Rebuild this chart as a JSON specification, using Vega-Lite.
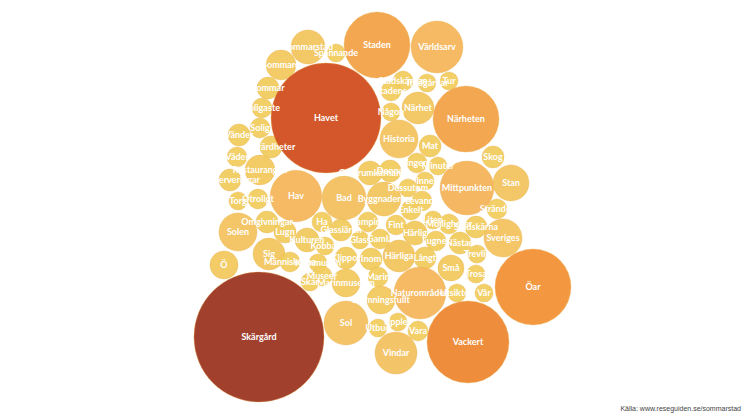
{
  "$schema": "https://vega.github.io/schema/vega-lite/v6.json",
  "width": 746,
  "height": 420,
  "padding": 0,
  "autosize": {"type": "none"},
  "background": "white",
  "title": {"text": "Källa: www.reseguiden.se/sommarstad", "orient": "bottom", "anchor": "end", "offset": -15, "dx": -5, "fontSize": 7, "fontWeight": "normal", "color": "#444", "font": "Liberation Sans"},
  "config": {"view": {"stroke": null}},
  "data": {"values": [
    {"ord": "Sommarstad", "x": 308, "y": 47, "antal": 9.6},
    {"ord": "Spännande", "x": 336, "y": 53, "antal": 2.7},
    {"ord": "Staden", "x": 377, "y": 45, "antal": 36},
    {"ord": "Världsarv", "x": 437, "y": 47, "antal": 22.3},
    {"ord": "Sommare", "x": 281, "y": 65, "antal": 7.4},
    {"ord": "Sommar", "x": 268, "y": 88, "antal": 4},
    {"ord": "Soligaste", "x": 262, "y": 108, "antal": 3.3},
    {"ord": "Solig", "x": 260, "y": 128, "antal": 3.3},
    {"ord": "Vänder", "x": 239, "y": 135, "antal": 4},
    {"ord": "Väder", "x": 237, "y": 157, "antal": 3.3},
    {"ord": "Sevärdheter", "x": 271, "y": 147, "antal": 4},
    {"ord": "Restaurangen", "x": 260, "y": 170, "antal": 7.4},
    {"ord": "Uteserveringar", "x": 230, "y": 180, "antal": 4},
    {"ord": "Torg", "x": 238, "y": 201, "antal": 2.7},
    {"ord": "Otroligt", "x": 258, "y": 199, "antal": 3.3},
    {"ord": "Omgivningar", "x": 267, "y": 222, "antal": 4},
    {"ord": "Solen", "x": 238, "y": 232, "antal": 12},
    {"ord": "Ö", "x": 224, "y": 265, "antal": 6.5},
    {"ord": "Sig", "x": 269, "y": 254, "antal": 8.5},
    {"ord": "Lugn", "x": 285, "y": 232, "antal": 4},
    {"ord": "Havet", "x": 326, "y": 118, "antal": 100},
    {"ord": "Hav", "x": 296, "y": 196, "antal": 22},
    {"ord": "Bad", "x": 344, "y": 198, "antal": 16},
    {"ord": "Stadskärnan", "x": 403, "y": 81, "antal": 3.3},
    {"ord": "Trädgårdar", "x": 427, "y": 83, "antal": 2.7},
    {"ord": "Tur", "x": 449, "y": 81, "antal": 2.7},
    {"ord": "Stadens", "x": 391, "y": 91, "antal": 3.3},
    {"ord": "Någon", "x": 391, "y": 112, "antal": 2.7},
    {"ord": "Närhet", "x": 418, "y": 108, "antal": 8.5},
    {"ord": "Närheten", "x": 466, "y": 119, "antal": 36},
    {"ord": "Historia", "x": 399, "y": 139, "antal": 12},
    {"ord": "Mat", "x": 430, "y": 146, "antal": 4},
    {"ord": "Skog", "x": 493, "y": 157, "antal": 4},
    {"ord": "Ingen", "x": 417, "y": 163, "antal": 3.3},
    {"ord": "Minuter", "x": 438, "y": 166, "antal": 2.7},
    {"ord": "Centrumkärnan", "x": 370, "y": 173, "antal": 4.8},
    {"ord": "Donna", "x": 390, "y": 171, "antal": 4},
    {"ord": "Inne", "x": 425, "y": 181, "antal": 2.7},
    {"ord": "Dessutom", "x": 408, "y": 188, "antal": 2.7},
    {"ord": "Mittpunkten", "x": 467, "y": 188, "antal": 24},
    {"ord": "Stan", "x": 511, "y": 183, "antal": 10.7},
    {"ord": "Byggnaderna", "x": 384, "y": 199, "antal": 9.5},
    {"ord": "Levande", "x": 422, "y": 201, "antal": 3.3},
    {"ord": "Enkelt", "x": 411, "y": 210, "antal": 3.3},
    {"ord": "Stränder", "x": 497, "y": 209, "antal": 3.3},
    {"ord": "Liten", "x": 433, "y": 220, "antal": 2.7},
    {"ord": "Möjligheter", "x": 449, "y": 224, "antal": 3.3},
    {"ord": "Stadskärna", "x": 476, "y": 227, "antal": 4},
    {"ord": "Sveriges", "x": 503, "y": 238, "antal": 12},
    {"ord": "Ha", "x": 322, "y": 222, "antal": 3.3},
    {"ord": "Camping", "x": 368, "y": 222, "antal": 3.3},
    {"ord": "Fint", "x": 396, "y": 225, "antal": 3.3},
    {"ord": "Glassiären", "x": 341, "y": 230, "antal": 4},
    {"ord": "Kulturen", "x": 307, "y": 240, "antal": 4.8},
    {"ord": "Glass", "x": 360, "y": 240, "antal": 2.7},
    {"ord": "Gamla", "x": 380, "y": 239, "antal": 3.3},
    {"ord": "Härlig", "x": 415, "y": 233, "antal": 4.8},
    {"ord": "Lugnet", "x": 436, "y": 241, "antal": 3.3},
    {"ord": "Nästan", "x": 460, "y": 243, "antal": 4},
    {"ord": "Kobbar", "x": 325, "y": 246, "antal": 2.7},
    {"ord": "Människorna", "x": 290, "y": 262, "antal": 3.3},
    {"ord": "Kommunen", "x": 318, "y": 263, "antal": 2.7},
    {"ord": "Klippor", "x": 346, "y": 258, "antal": 4},
    {"ord": "Inom", "x": 371, "y": 259, "antal": 4},
    {"ord": "Härliga", "x": 399, "y": 256, "antal": 8.5},
    {"ord": "Långt", "x": 425, "y": 258, "antal": 4},
    {"ord": "Trevlig", "x": 477, "y": 254, "antal": 2.7},
    {"ord": "Små", "x": 451, "y": 268, "antal": 5.6},
    {"ord": "Trosa", "x": 476, "y": 274, "antal": 2.7},
    {"ord": "Museer", "x": 322, "y": 276, "antal": 3.3},
    {"ord": "Skär", "x": 310, "y": 282, "antal": 2.7},
    {"ord": "Marinmuseum", "x": 346, "y": 283, "antal": 6.5},
    {"ord": "Marin", "x": 378, "y": 277, "antal": 3.3},
    {"ord": "Naturområden", "x": 420, "y": 293, "antal": 22.3},
    {"ord": "Utsikten", "x": 457, "y": 293, "antal": 2.7},
    {"ord": "Vår", "x": 484, "y": 293, "antal": 2.7},
    {"ord": "Öar", "x": 533, "y": 287, "antal": 47.7},
    {"ord": "Stämningsfullt", "x": 381, "y": 300, "antal": 6.5},
    {"ord": "Sol", "x": 346, "y": 323, "antal": 16},
    {"ord": "Upplev", "x": 398, "y": 322, "antal": 2.7},
    {"ord": "Utbud", "x": 378, "y": 328, "antal": 2.7},
    {"ord": "Vara", "x": 418, "y": 331, "antal": 3.3},
    {"ord": "Vindar", "x": 396, "y": 353, "antal": 14.6},
    {"ord": "Vackert", "x": 468, "y": 342, "antal": 55.6},
    {"ord": "Skärgård", "x": 259, "y": 337, "antal": 140}
  ]},
  "encoding": {
    "x": {"field": "x", "type": "quantitative", "scale": {"domain": [0, 746], "nice": false, "zero": false}, "axis": null},
    "y": {"field": "y", "type": "quantitative", "scale": {"domain": [0, 420], "nice": false, "zero": false, "reverse": true}, "axis": null}
  },
  "layer": [
    {
      "mark": {"type": "circle", "opacity": 0.95, "stroke": "#e9b04a", "strokeWidth": 0.6, "strokeOpacity": 0.6},
      "encoding": {
        "size": {"field": "antal", "type": "quantitative", "scale": {"type": "linear", "domain": [0, 100], "range": [0, 12100], "zero": true}, "legend": null},
        "color": {"field": "antal", "type": "quantitative", "scale": {"domain": [3, 16, 24, 48, 100, 140], "range": ["#f2cd5f", "#f4c060", "#f5b45a", "#f39237", "#d14f20", "#9e3623"]}, "legend": null}
      }
    },
    {
      "mark": {"type": "text", "color": "white", "fontWeight": "bold", "fontSize": 9, "font": "Lato", "align": "center", "baseline": "middle"},
      "encoding": {"text": {"field": "ord", "type": "nominal"}}
    }
  ]
}
